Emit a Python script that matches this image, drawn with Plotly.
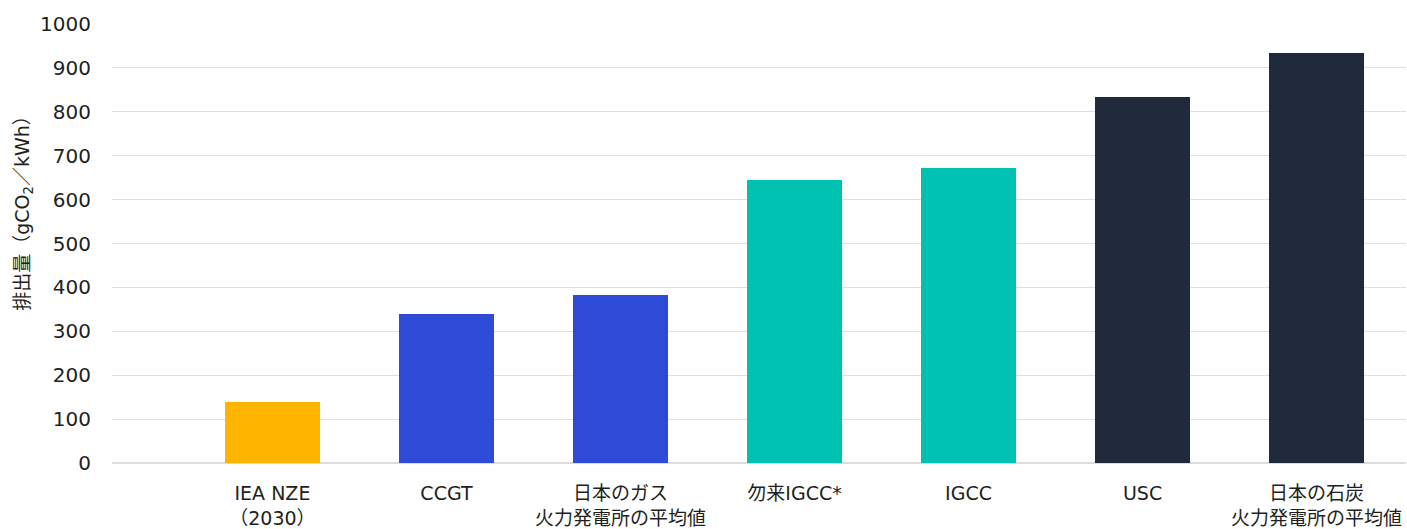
import plotly.graph_objects as go

categories = ["IEA NZE<br>（2030）", "CCGT", "日本のガス<br>火力発電所の平均値", "勿来IGCC*", "IGCC", "USC", "日本の石炭<br>火力発電所の平均値"]
values = [140, 340, 383, 645, 672, 833, 934]
colors = ["#FFB400", "#2E4BD8", "#2E4BD8", "#00C2B2", "#00C2B2", "#21293D", "#21293D"]
y_ticks = [0, 100, 200, 300, 400, 500, 600, 700, 800, 900, 1000]
y_title = "排出量（gCO<sub>2</sub>／kWh）"

FONT = "'DejaVu Sans', 'Noto Sans CJK JP', sans-serif"

fig = go.Figure(go.Bar(
    x=list(range(len(categories))),
    y=values,
    marker=dict(color=colors, line=dict(width=0)),
    width=0.546,
))

fig.update_layout(
    width=1407, height=529,
    margin=dict(l=112, r=1, t=24, b=66, autoexpand=False),
    plot_bgcolor="white", paper_bgcolor="white",
    font=dict(family=FONT, color="#231F20"),
    showlegend=False,
    bargap=0,
)
fig.update_xaxes(
    tickmode="array", tickvals=list(range(len(categories))), ticktext=categories,
    range=[-0.922, 6.514], showgrid=False, zeroline=False, showline=False,
    ticks="", tickfont=dict(size=19, family=FONT, color="#231F20"),
    ticklabelstandoff=17, automargin=False,
)
fig.update_yaxes(
    range=[0, 1000], tickvals=y_ticks, showgrid=True, gridcolor="#E0E0E0", gridwidth=1,
    zeroline=True, zerolinecolor="#DCDCDC", zerolinewidth=2,
    ticks="", tickfont=dict(size=20, family=FONT, color="#231F20"),
    ticklabelstandoff=20, automargin=False,
)
fig.add_annotation(
    text=y_title, textangle=-90, showarrow=False,
    xref="paper", yref="paper", x=-0.068, y=0.579,
    xanchor="center", yanchor="middle",
    font=dict(size=19, family=FONT, color="#231F20"),
)

fig.write_html(
    "out.html",
    config={"displayModeBar": False},
    post_script="document.body.style.margin='0';document.body.style.overflow='hidden';",
)
